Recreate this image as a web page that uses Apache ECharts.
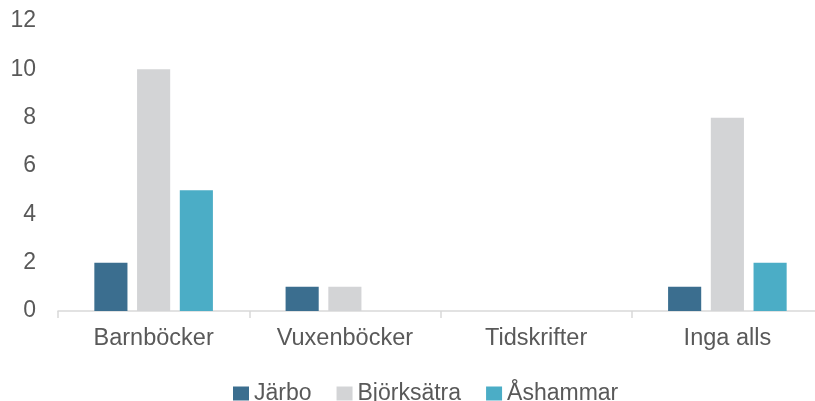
<!DOCTYPE html>
<html>
<head>
<meta charset="utf-8">
<script src="https://cdn.jsdelivr.net/npm/echarts@6/dist/echarts.min.js"></script>
<style>
  html, body { margin: 0; padding: 0; background: #fff; overflow: hidden; }
  #chart { width: 823px; height: 401px; }
</style>
</head>
<body>
<div id="chart"></div>
<script>
const categories = ['Barnböcker', 'Vuxenböcker', 'Tidskrifter', 'Inga alls'];
const jarbo = [2, 1, 0, 1];
const bjorksatra = [10, 1, 0, 8];
const ashammar = [5, 0, 0, 2];
const yTicks = { min: 0, max: 12, interval: 2 };

const textColor = '#595959';
const font = 'Liberation Sans, Arial, sans-serif';

// the plot runs a little past the right edge of the picture, so the canvas is wider than the window
const chart = echarts.init(document.getElementById('chart'));
chart.setOption({
  animation: false,
  textStyle: { fontFamily: font },
  grid: { left: 58, top: 21, right: 0, height: 290 },
  legend: {
    top: 382,
    left: 233,
    padding: 0,
    itemWidth: 16,
    itemHeight: 14,
    itemGap: 25,
    icon: 'rect',
    textStyle: { color: textColor, fontSize: 23, fontFamily: font },
    data: ['Järbo', 'Björksätra', 'Åshammar'],
  },
  xAxis: {
    type: 'category',
    data: categories,
    axisLine: { lineStyle: { color: '#d9d9d9', width: 1.5 } },
    axisTick: { show: true, length: 7, lineStyle: { color: '#d9d9d9', width: 1.5 } },
    axisLabel: { color: textColor, fontSize: 23.5, margin: 16, fontFamily: font },
  },
  yAxis: {
    type: 'value',
    min: yTicks.min,
    max: yTicks.max,
    interval: yTicks.interval,
    splitLine: { show: false },
    axisLine: { show: false },
    axisTick: { show: false },
    axisLabel: { color: textColor, fontSize: 23, margin: 22, fontFamily: font },
  },
  series: [
    { name: 'Järbo', type: 'bar', data: jarbo, barGap: '29%', barCategoryGap: '38%',
      itemStyle: { color: '#3b6e8f' } },
    { name: 'Björksätra', type: 'bar', data: bjorksatra,
      itemStyle: { color: '#d3d4d6' } },
    { name: 'Åshammar', type: 'bar', data: ashammar,
      itemStyle: { color: '#4badc6' } },
  ],
});
</script>
</body>
</html>
